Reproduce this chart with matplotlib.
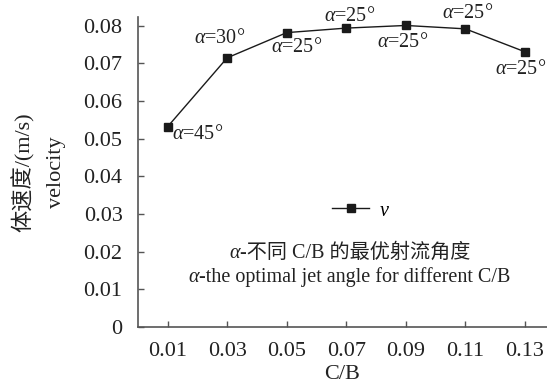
import matplotlib
matplotlib.use("Agg")
import matplotlib.pyplot as plt

plt.rcParams.update({
    "font.family": ["Liberation Serif", "Noto Sans CJK SC"],
    "mathtext.fontset": "custom",
    "mathtext.it": "Liberation Serif:italic",
    "mathtext.rm": "Liberation Serif",
    "font.size": 16,
})

ratios = ["0.01", "0.03", "0.05", "0.07", "0.09", "0.11", "0.13"]
velocity = [0.0532, 0.0715, 0.0782, 0.0794, 0.0801, 0.0792, 0.0731]
angles = [45, 30, 25, 25, 25, 25, 25]
yticks = [0, 0.01, 0.02, 0.03, 0.04, 0.05, 0.06, 0.07, 0.08]

# label offsets from each point, in pixels (dx, dy)
label_offsets = [(4, -8), (-8, 19), (10, -15), (3, 12), (-3, -17), (2, 15), (-4, -18)]

INK = "#222222"
SPINE = "#555555"

fig = plt.figure(figsize=(5.47, 3.91), dpi=100)
ax = fig.add_axes([0.252, 0.164, 0.748, 0.793])

x = list(range(len(ratios)))
ax.plot(x, velocity, color="#1a1a1a", linewidth=1.0, marker="s",
        markersize=5.5, label="$v$")

for i, (v, a, off) in enumerate(zip(velocity, angles, label_offsets)):
    ax.annotate(r"$\alpha$=%d°" % a, (i, v), xytext=off,
                textcoords="offset pixels", ha="left" if i == 0 else "center",
                va="center", fontsize=14.5, color=INK)

ax.set_xlim(-0.5, 6.37)
ax.set_ylim(0, 0.0824)
ax.set_xticks(x)
ax.set_xticklabels(ratios)
ax.set_yticks(yticks)
ax.set_yticklabels(["0" if t == 0 else f"{t:.2f}" for t in yticks])

for side in ["top", "right"]:
    ax.spines[side].set_visible(False)
for side in ["left", "bottom"]:
    ax.spines[side].set_color(SPINE)
    ax.spines[side].set_linewidth(1.2)
ax.tick_params(direction="in", length=4, color=SPINE, width=1,
               labelsize=16, labelcolor=INK)
ax.tick_params(axis="y", pad=11)
ax.tick_params(axis="x", pad=11)

ax.set_xlabel("C/B", fontsize=16, color=INK, labelpad=3)
ax.set_ylabel("体速度/(m/s)\nvelocity", fontsize=16, color=INK,
              labelpad=13, linespacing=1.85)

ax.legend(loc="center left", bbox_to_anchor=(332 / 547, 1 - 211 / 391),
          bbox_transform=fig.transFigure, frameon=False, fontsize=14.5,
          handlelength=1.85, handletextpad=0.5, borderpad=0, borderaxespad=0)

# note lines: italic alpha followed by regular text
a1 = fig.text(229 / 547, 1 - 253 / 391, "α", style="italic", fontsize=14.5,
              color=INK, ha="left", va="center")
ax.annotate("-不同 C/B 的最优射流角度", xy=(1, 0.5), xycoords=a1,
            ha="left", va="center", fontsize=14.5, color=INK)
a2 = fig.text(188 / 547, 1 - 277 / 391, "α", style="italic", fontsize=14.5,
              color=INK, ha="left", va="center")
ax.annotate("-the optimal jet angle for different C/B", xy=(1, 0.5),
            xycoords=a2, ha="left", va="center", fontsize=14.5, color=INK)

fig.savefig("out.png", dpi=100)
